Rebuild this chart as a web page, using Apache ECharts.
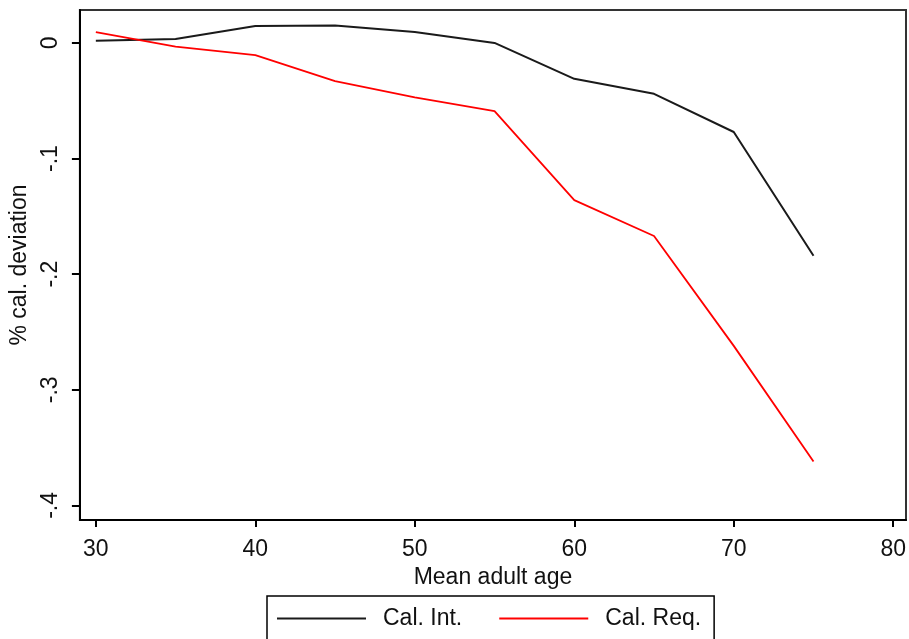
<!DOCTYPE html>
<html>
<head>
<meta charset="utf-8">
<script src="https://cdn.jsdelivr.net/npm/echarts@6/dist/echarts.min.js"></script>
<style>
html,body{margin:0;padding:0;background:#fff;}
#chart{width:909px;height:639px;}
</style>
</head>
<body>
<div id="chart"></div>
<script>
// Data
const ages = [30, 35, 40, 45, 50, 55, 60, 65, 70, 75];
const calInt = [0.002, 0.0035, 0.0147, 0.015, 0.0095, 0.0, -0.031, -0.044, -0.077, -0.184];
const calReq = [0.0093, -0.0032, -0.0105, -0.033, -0.047, -0.059, -0.136, -0.167, -0.262, -0.362];
const seriesNames = ['Cal. Int.', 'Cal. Req.'];
const xTickValues = [30, 40, 50, 60, 70, 80];
const yTickValues = [0, -0.1, -0.2, -0.3, -0.4];
const yTickLabels = ['0', '-.1', '-.2', '-.3', '-.4'];

const font = '"Liberation Sans", Arial, sans-serif';
const fs = 23;

function pairs(xs, ys) { return xs.map((x, i) => [x, ys[i]]); }

const chart = echarts.init(document.getElementById('chart'), null, {renderer: 'canvas'});
chart.setOption({
  backgroundColor: '#fff',
  animation: false,
  textStyle: {fontFamily: font},
  grid: {
    left: 78, top: 10, right: 2, bottom: 119,
    show: true, borderColor: '#333', borderWidth: 2, backgroundColor: 'transparent'
  },
  xAxis: {
    type: 'value', min: 29, max: 80.8,
    name: 'Mean adult age', nameLocation: 'middle', nameGap: 40,
    nameTextStyle: {fontFamily: font, fontSize: fs, color: '#111'},
    axisLine: {show: true, onZero: false, lineStyle: {color: '#000', width: 2}},
    axisTick: {show: true, length: 7, customValues: xTickValues, lineStyle: {color: '#000', width: 2}},
    axisLabel: {customValues: xTickValues, fontFamily: font, fontSize: fs, color: '#111', margin: 18},
    splitLine: {show: false}
  },
  yAxis: {
    type: 'value', min: -0.4126, max: 0.0285,
    name: '% cal. deviation', nameLocation: 'middle', nameGap: 44,
    nameTextStyle: {fontFamily: font, fontSize: fs, color: '#111'},
    axisLine: {show: true, onZero: false, lineStyle: {color: '#000', width: 2}},
    axisTick: {show: true, length: 8, customValues: yTickValues, lineStyle: {color: '#000', width: 2}},
    axisLabel: {
      customValues: yTickValues, rotate: 90, fontFamily: font, fontSize: fs, color: '#111', margin: 18,
      formatter: function (v) {
        let best = 0, bd = Infinity;
        yTickValues.forEach((t, i) => { const d = Math.abs(t - v); if (d < bd) { bd = d; best = i; } });
        return yTickLabels[best];
      }
    },
    splitLine: {show: false}
  },
  legend: {
    data: seriesNames,
    left: 267, top: 596,
    orient: 'horizontal',
    icon: 'rect',
    padding: [11, 13, 14, 10],
    itemWidth: 89, itemHeight: 2, itemGap: 37,
    borderColor: '#000', borderWidth: 1.5, backgroundColor: '#fff',
    textStyle: {fontFamily: font, fontSize: fs, color: '#111', padding: [0, 0, 0, 12]}
  },
  series: [
    {
      name: seriesNames[0], type: 'line', data: pairs(ages, calInt),
      symbol: 'none', smooth: false,
      lineStyle: {color: '#1a1a1a', width: 2}, itemStyle: {color: '#1a1a1a'}
    },
    {
      name: seriesNames[1], type: 'line', data: pairs(ages, calReq),
      symbol: 'none', smooth: false,
      lineStyle: {color: '#ff0000', width: 1.8}, itemStyle: {color: '#ff0000'}
    }
  ]
});
</script>
</body>
</html>
